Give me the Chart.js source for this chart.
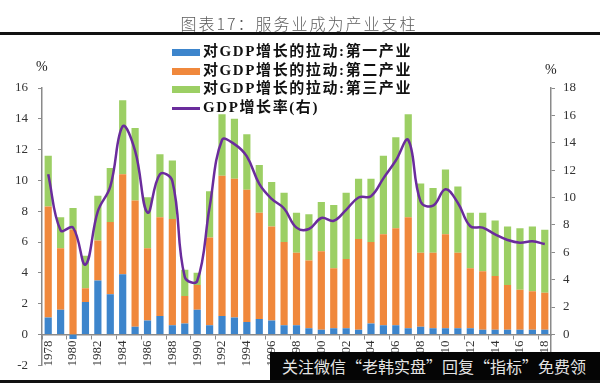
<!DOCTYPE html>
<html>
<head>
<meta charset="utf-8">
<script src="https://cdn.jsdelivr.net/npm/chart.js@4.4.1/dist/chart.umd.min.js"></script>
<style>
  html, body { margin: 0; padding: 0; background: #fff; }
  #wrap { position: relative; width: 600px; height: 383px; overflow: hidden; background: #fff; }
  #c { position: absolute; left: 0; top: 0; }
  .title { position: absolute; left: 0; width: 598px; top: 11px; text-align: center;
    font: 300 16px "Noto Sans CJK SC", sans-serif; color: #5a5a5a; letter-spacing: 2px; }
  .rule { position: absolute; left: 0; width: 600px; top: 32px; height: 3px; background: #111; }
  .legend { position: absolute; left: 172px; top: 42px; }
  .row { position: relative; height: 18.6px; font: bold 15px "Liberation Serif", "Noto Sans CJK SC", serif;
    color: #111; letter-spacing: 1.6px; white-space: nowrap; line-height: 18.6px; }
  .sw { position: absolute; left: 0; top: 7px; width: 28px; height: 7px; }
  .ln { position: absolute; left: 0; top: 9px; width: 28px; height: 3px; background: #6a2c9c; }
  .row span { position: absolute; left: 31px; top: 0; }
  .pct { position: absolute; font: 14px "Liberation Serif", serif; color: #222; }
  .wm { position: absolute; left: 270px; top: 352px; width: 330px; height: 29px; background: #050505;
    color: #e4e4e4; font: 16px "Noto Sans CJK SC", sans-serif; line-height: 29px; padding-left: 12px;
    white-space: nowrap; box-sizing: border-box; }
  .bottom { position: absolute; left: 0; top: 380px; width: 600px; height: 3px; background: #111; }
</style>
</head>
<body>
<div id="wrap">
  <canvas id="c" width="600" height="383"></canvas>
  <div class="title">图表17：服务业成为产业支柱</div>
  <div class="rule"></div>
  <div class="legend">
    <div class="row"><div class="sw" style="background:#3d85cc"></div><span>对GDP增长的拉动:第一产业</span></div>
    <div class="row"><div class="sw" style="background:#f0883c"></div><span>对GDP增长的拉动:第二产业</span></div>
    <div class="row"><div class="sw" style="background:#9ccf64"></div><span>对GDP增长的拉动:第三产业</span></div>
    <div class="row"><div class="ln"></div><span>GDP增长率(右)</span></div>
  </div>
  <div class="pct" style="left:36px; top:59px;">%</div>
  <div class="pct" style="left:545px; top:62px;">%</div>
  <div class="wm">关注微信“老韩实盘”回复“指标”免费领</div>
  <div class="bottom"></div>
</div>
<script>
// categories
var years = ['1978', '1979', '1980', '1981', '1982', '1983', '1984', '1985', '1986', '1987',
  '1988', '1989', '1990', '1991', '1992', '1993', '1994', '1995', '1996', '1997',
  '1998', '1999', '2000', '2001', '2002', '2003', '2004', '2005', '2006', '2007',
  '2008', '2009', '2010', '2011', '2012', '2013', '2014', '2015', '2016', '2017', '2018'];

// contribution to GDP growth, percentage points (left axis)
var primary = [1.1, 1.6, -0.3, 2.1, 3.5, 2.6, 3.9, 0.5, 0.9, 1.2,
  0.6, 0.7, 1.6, 0.6, 1.2, 1.1, 0.8, 1.0, 0.9, 0.6,
  0.6, 0.4, 0.3, 0.4, 0.4, 0.3, 0.7, 0.6, 0.6, 0.4,
  0.5, 0.4, 0.4, 0.4, 0.4, 0.3, 0.3, 0.3, 0.3, 0.3, 0.3];
var secondary = [7.2, 4.0, 6.8, 0.9, 2.6, 4.7, 6.5, 8.2, 4.7, 6.4,
  6.9, 1.8, 1.6, 5.7, 9.1, 9.0, 8.6, 6.9, 6.1, 5.4,
  4.7, 4.4, 5.1, 3.9, 4.5, 5.9, 5.3, 5.9, 6.3, 7.2,
  4.8, 4.9, 6.1, 4.9, 3.9, 3.8, 3.5, 2.9, 2.6, 2.5, 2.4];
var tertiary = [3.3, 2.0, 1.4, 2.1, 2.9, 3.5, 4.8, 4.7, 3.3, 4.1,
  3.8, 1.7, 0.8, 3.0, 4.0, 3.9, 3.6, 3.1, 2.9, 3.2,
  2.6, 3.0, 3.2, 4.1, 4.3, 3.9, 4.1, 5.1, 5.9, 6.7,
  4.5, 4.2, 4.2, 4.3, 3.6, 3.8, 3.6, 3.8, 4.0, 4.2, 4.1];

// GDP growth, % (right axis)
var gdpGrowth = [11.7, 7.6, 7.8, 5.1, 9.0, 10.8, 15.2, 13.4, 8.9, 11.7,
  11.2, 4.2, 3.9, 9.3, 14.2, 13.9, 13.0, 11.0, 9.9, 9.2,
  7.8, 7.7, 8.5, 8.3, 9.1, 10.0, 10.1, 11.4, 12.7, 14.2,
  9.7, 9.4, 10.6, 9.6, 7.9, 7.8, 7.3, 6.9, 6.7, 6.8, 6.6];

var rightTicks = [0, 2, 4, 6, 8, 10, 12, 14, 16, 18];

var axisColor = '#8a8a8a';
var tickFont = { family: 'Liberation Serif', size: 13 };

var chart = new Chart(document.getElementById('c'), {
  type: 'bar',
  data: {
    labels: years,
    datasets: [{
      type: 'line',
      label: 'GDP增长率(右)',
      data: gdpGrowth,
      yAxisID: 'y2',
      borderColor: '#6a2c9c',
      borderWidth: 2.5,
      pointRadius: 0,
      tension: 0.4,
      fill: false,
      order: 0
    }, {
      label: '对GDP增长的拉动:第一产业',
      data: primary,
      backgroundColor: '#3d85cc',
      order: 1
    }, {
      label: '对GDP增长的拉动:第二产业',
      data: secondary,
      backgroundColor: '#f0883c',
      order: 1
    }, {
      label: '对GDP增长的拉动:第三产业',
      data: tertiary,
      backgroundColor: '#9ccf64',
      order: 1
    }]
  },
  options: {
    responsive: false,
    animation: false,
    layout: { padding: { top: 88, bottom: 15, left: 0, right: 0 } },
    datasets: { bar: { categoryPercentage: 1, barPercentage: 0.58 } },
    plugins: { legend: { display: false }, tooltip: { enabled: false } },
    scales: {
      x: {
        stacked: true,
        position: { y: 0 },
        grid: {
          drawOnChartArea: false,
          tickLength: 4,
          color: function (ctx) { return ctx.index % 2 === 0 ? axisColor : 'rgba(0,0,0,0)'; }
        },
        border: { color: axisColor, width: 1.5 },
        ticks: {
          autoSkip: false,
          minRotation: 90,
          maxRotation: 90,
          padding: 2,
          color: '#333',
          font: tickFont,
          callback: function (val, i) { return i % 2 === 0 ? years[i] : ''; }
        }
      },
      y: {
        stacked: true,
        position: 'left',
        min: -2,
        max: 16,
        ticks: { stepSize: 2, padding: 10, color: '#333', font: tickFont },
        grid: { drawOnChartArea: false, tickLength: 4, color: axisColor },
        border: { color: axisColor, width: 1.5 },
        afterFit: function (scale) { scale.width = 42; }
      },
      y2: {
        position: 'right',
        min: -2.25,
        max: 18,
        afterBuildTicks: function (scale) {
          scale.ticks = rightTicks.map(function (v) { return { value: v }; });
        },
        ticks: { padding: 8, color: '#333', font: tickFont },
        grid: { drawOnChartArea: false, tickLength: 4, color: axisColor },
        border: { color: axisColor, width: 1.5 },
        afterFit: function (scale) { scale.width = 49; }
      }
    }
  }
});
</script>
</body>
</html>
